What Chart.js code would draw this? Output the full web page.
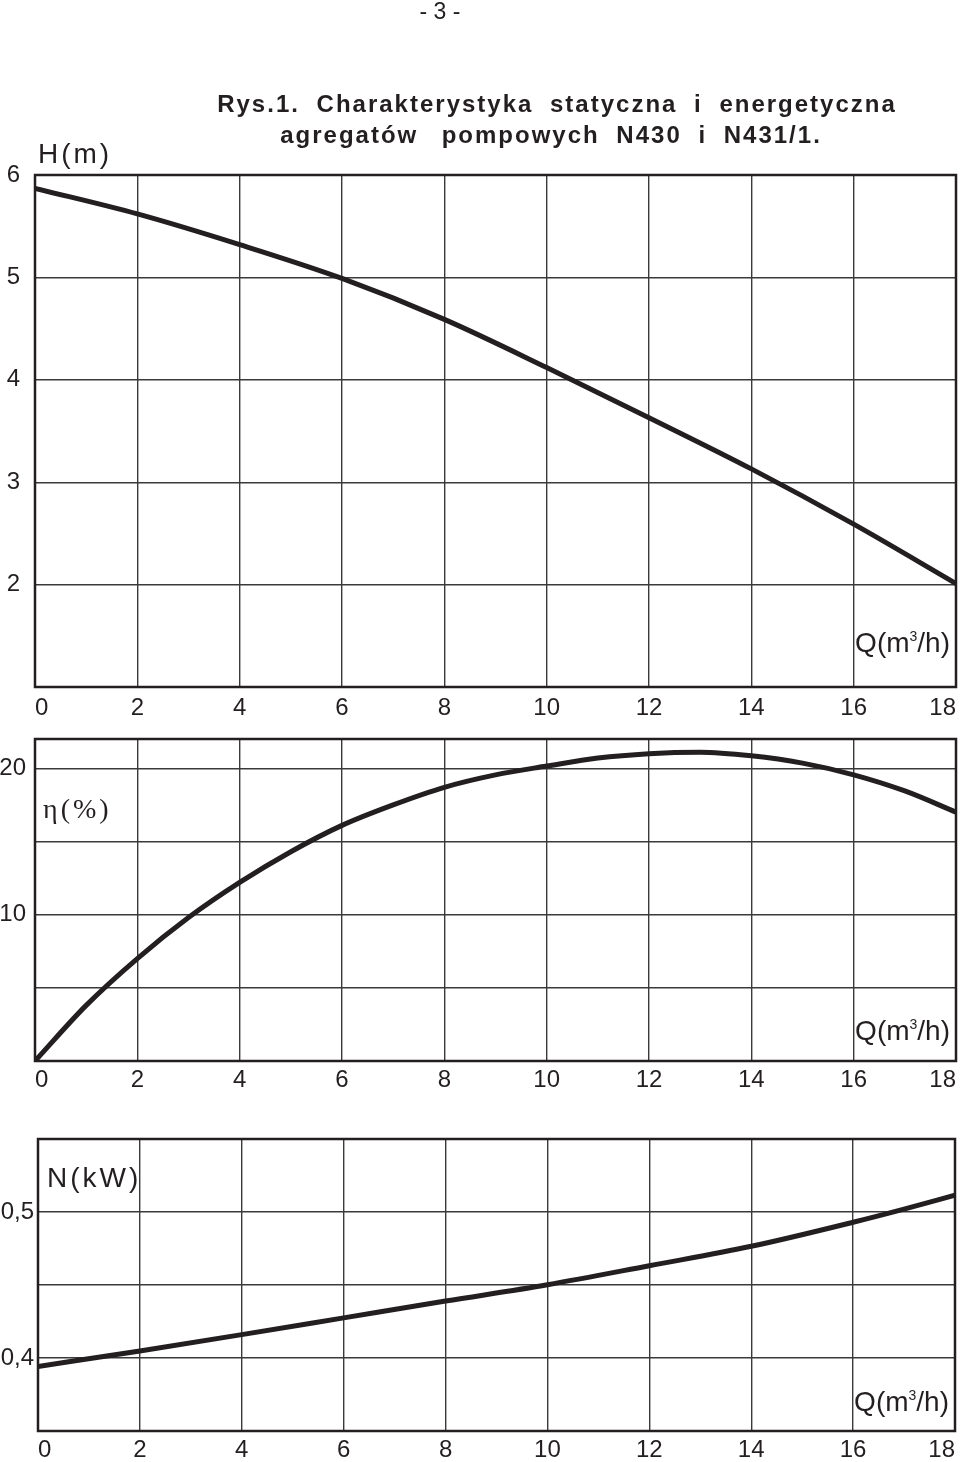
<!DOCTYPE html>
<html>
<head>
<meta charset="utf-8">
<script src="https://cdn.jsdelivr.net/npm/chart.js@4.4.1/dist/chart.umd.min.js"></script>
<style>
  body { margin: 0; background: #fff; width: 960px; height: 1462px; overflow: hidden; }
  canvas { position: absolute; left: 0; }
</style>
</head>
<body>
<canvas id="headChart" width="960" height="730" style="top:0px"></canvas>
<canvas id="effChart" width="960" height="395" style="top:715px"></canvas>
<canvas id="powerChart" width="960" height="352" style="top:1110px"></canvas>
<script>
// oś Q wspólna dla wszystkich wykresów
const flowTicks = [0, 2, 4, 6, 8, 10, 12, 14, 16, 18];

// H(Q)
const headQ = [0, 2, 4, 6, 8, 10, 12, 14, 16, 18];
const headH = [5.87, 5.62, 5.32, 4.99, 4.59, 4.12, 3.63, 3.13, 2.59, 2.01];
const headGrid = [1, 2, 3, 4, 5, 6];
const headTicks = [2, 3, 4, 5, 6];

// sprawność
const effQ = [0, 1, 2, 3, 4, 5, 6, 7, 8, 9, 10, 11, 12, 13, 14, 15, 16, 17, 18];
const effEta = [0, 3.8, 7.0, 9.8, 12.2, 14.3, 16.1, 17.5, 18.7, 19.55, 20.15, 20.7, 21.0, 21.1, 20.85, 20.35, 19.55, 18.45, 17.0];
const effGrid = [0, 5, 10, 15, 20];
const effTicks = [10, 20];

// moc
const powerQ = [0, 2, 4, 6, 8, 10, 12, 14, 16, 17, 18];
const powerN = [0.3942, 0.4048, 0.4160, 0.4275, 0.4390, 0.4502, 0.4632, 0.4765, 0.4930, 0.5020, 0.5115];
const powerGrid = [0.35, 0.4, 0.45, 0.5, 0.55];
const powerTicks = [0.4, 0.5];

const ink = "#231f20";
const gridInk = "#3a3a3a";
const sans = '"Liberation Sans", Arial, sans-serif';

const toPoints = (xs, ys) => xs.map((x, i) => ({ x: x, y: ys[i] }));

// ramka, opisy osi i nagłówek strony
const framePlugin = {
  id: "frame",
  afterDraw(chart, args, opts) {
    const ctx = chart.ctx;
    const a = chart.chartArea;
    ctx.save();
    ctx.strokeStyle = ink;
    ctx.lineWidth = 2.5;
    ctx.strokeRect(a.left, a.top, a.right - a.left, a.bottom - a.top);

    ctx.fillStyle = ink;
    ctx.textAlign = "left";
    ctx.textBaseline = "alphabetic";

    if (opts.header) {
      ctx.textAlign = "center";
      ctx.font = "23px " + sans;
      ctx.fillText("- 3 -", 440, 19);
      ctx.font = "bold 24px " + sans;
      ctx.letterSpacing = "2px";
      ctx.wordSpacing = "8px";
      ctx.fillText("Rys.1. Charakterystyka statyczna i energetyczna", 557, 112);
      ctx.fillText("agregatów \u2009pompowych N430 i N431/1.", 551, 143);
      ctx.wordSpacing = "0px";
      ctx.textAlign = "left";
    }

    ctx.font = opts.yFont;
    ctx.letterSpacing = "3px";
    ctx.fillText(opts.yTitle, opts.yX, opts.yY);
    ctx.letterSpacing = "0px";

    // Q(m3/h)
    const big = "28px " + sans;
    const small = "14px " + sans;
    ctx.font = big;
    const w1 = ctx.measureText("Q(m").width;
    const w2 = ctx.measureText("/h)").width;
    ctx.font = small;
    const w3 = ctx.measureText("3").width;
    let x = a.right - 6 - (w1 + w2 + w3);
    const y = a.bottom - opts.qDrop;
    ctx.font = big;
    ctx.fillText("Q(m", x, y);
    x += w1;
    ctx.font = small;
    ctx.fillText("3", x, y - 11);
    x += w3;
    ctx.font = big;
    ctx.fillText("/h)", x, y);
    ctx.restore();
  }
};

function makePanel(id, points, yMin, yMax, gridVals, labelVals, fmt, box, frame) {
  return new Chart(document.getElementById(id), {
    type: "line",
    data: {
      datasets: [{
        data: points,
        borderColor: ink,
        borderWidth: 5,
        pointRadius: 0,
        cubicInterpolationMode: "monotone",
        fill: false
      }]
    },
    options: {
      responsive: false,
      animation: false,
      layout: { autoPadding: false, padding: { top: box.top, right: box.right, left: 0, bottom: 0 } },
      plugins: { legend: { display: false }, tooltip: { enabled: false }, frame: frame },
      scales: {
        x: {
          type: "linear",
          min: 0,
          max: 18,
          afterBuildTicks: s => { s.ticks = flowTicks.map(v => ({ value: v })); },
          afterFit: s => {
            s.height = box.bottomH;
            s.paddingLeft = 0;
            s.paddingRight = 0;
          },
          grid: { color: gridInk, lineWidth: 1.4, drawTicks: false },
          border: { display: false },
          ticks: {
            font: { family: sans, size: 24 },
            color: ink,
            padding: box.xPad,
            align: "inner",
            maxRotation: 0,
            autoSkip: false,
            callback: v => String(v)
          }
        },
        y: {
          type: "linear",
          min: yMin,
          max: yMax,
          afterBuildTicks: s => { s.ticks = gridVals.map(v => ({ value: v })); },
          afterFit: s => {
            s.width = box.leftW;
            s.paddingTop = 0;
            s.paddingBottom = 0;
          },
          grid: { color: gridInk, lineWidth: 1.4, drawTicks: false },
          border: { display: false },
          ticks: {
            font: { family: sans, size: 24 },
            color: ink,
            padding: box.yPad,
            autoSkip: false,
            callback: v => labelVals.includes(v) ? fmt(v) : ""
          }
        }
      }
    },
    plugins: [framePlugin]
  });
}

makePanel("headChart", toPoints(headQ, headH), 1, 6, headGrid, headTicks, v => String(v),
  { top: 175, right: 4, leftW: 35, bottomH: 43, xPad: 7, yPad: 15 },
  { header: true, yTitle: "H(m)", yFont: "28px " + sans, yX: 38, yY: 163, qDrop: 35 });

makePanel("effChart", toPoints(effQ, effEta), 0, 22, effGrid, effTicks, v => String(v),
  { top: 24, right: 4, leftW: 35, bottomH: 49, xPad: 5, yPad: 9 },
  { yTitle: "η(%)", yFont: '28px "Liberation Serif", "Times New Roman", serif', yX: 43, yY: 103, qDrop: 21 });

makePanel("powerChart", toPoints(powerQ, powerN), 0.35, 0.55, powerGrid, powerTicks, v => String(v).replace(".", ","),
  { top: 29, right: 5, leftW: 38, bottomH: 31, xPad: 5, yPad: 4 },
  { yTitle: "N(kW)", yFont: "28px " + sans, yX: 47, yY: 77, qDrop: 20 });
</script>
</body>
</html>
